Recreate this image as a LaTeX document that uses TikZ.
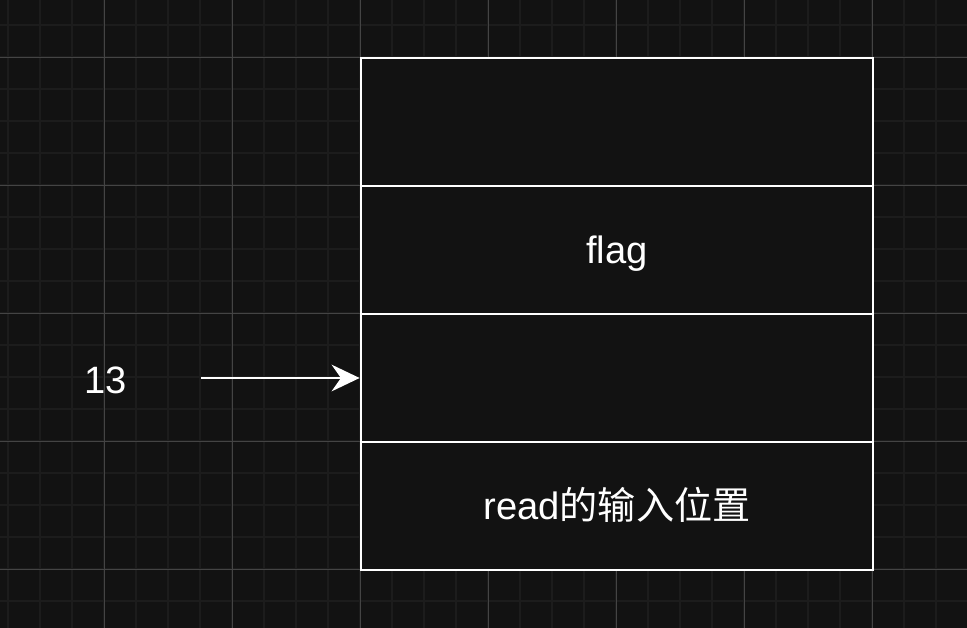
\documentclass[tikz,border=0pt]{standalone}
\usepackage{fontspec}
\setmainfont{Liberation Sans}
\newfontfamily\cjk{Noto Sans CJK SC}
\usetikzlibrary{arrows.meta}
\definecolor{canvas}{HTML}{121212}
\definecolor{gridminor}{HTML}{1C1C1C}
\definecolor{gridmajor}{HTML}{444444}

\begin{document}
\begin{tikzpicture}[
    x=0.75pt, y=-0.75pt,
    slot/.style={rectangle, draw=white, line width=2.1pt, fill=canvas, minimum width=384pt, minimum height=96pt, inner sep=0pt, text=white, font=\fontsize{28.6}{34}\selectfont, text height=20pt, text depth=0pt},
    stacktext/.style={text=white, font=\fontsize{28.6}{34}\selectfont, inner sep=0pt, text height=20pt, text depth=0pt},
    pointer/.style={draw=white, line width=1.8pt, -{Stealth[length=21pt, width=20pt, inset=7pt]}}
]
    % Canvas and grid
    \fill[canvas] (0,0) rectangle (967,628);
    \useasboundingbox (0,0) rectangle (967,628);
    \foreach \x in {8,40,...,968} \draw[gridminor, line width=1.1pt] (\x,0) -- (\x,628);
    \foreach \y in {-7,25,...,601} \draw[gridminor, line width=1.1pt] (0,\y) -- (967,\y);
    \foreach \x in {104,232,...,872} \draw[gridmajor, line width=0.75pt] (\x,0) -- (\x,628);
    \foreach \y in {57,185,...,569} \draw[gridmajor, line width=0.75pt] (0,\y) -- (967,\y);

    % Stack slots
    \node[slot] (top) at (617,122) {};
    \node[slot] (flag) at (617,250) {flag};
    \node[slot] (mid) at (617,378) {};
    \node[slot] (buf) at (617,506) {read{\cjk 的输入位置}};

    % Offset pointer
    \node[stacktext] (offset) at (106,380) {13};
    \coordinate (tail) at (201,378);
    \draw[pointer] (tail) -- (mid.west);

\end{tikzpicture}
\end{document}
